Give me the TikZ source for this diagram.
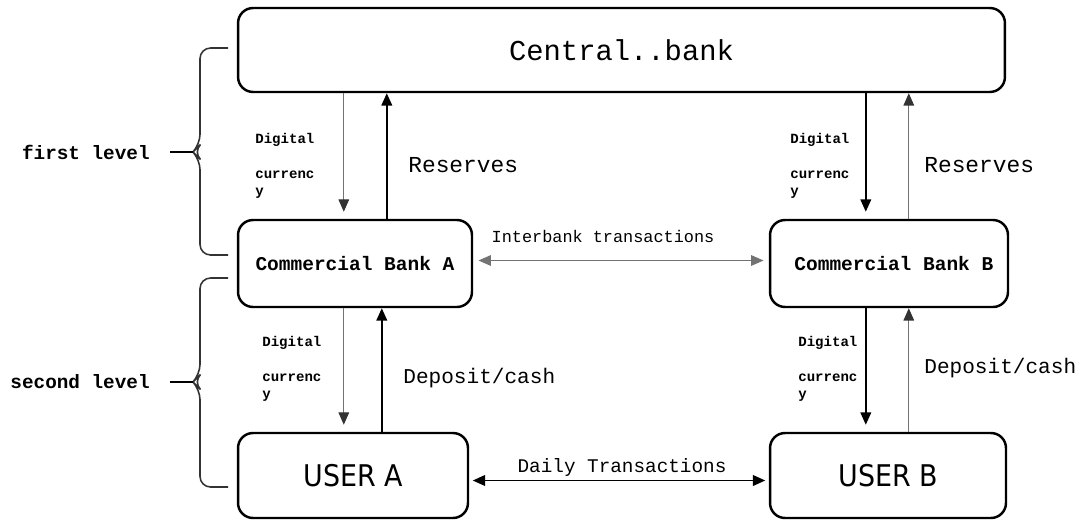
\documentclass[tikz,border=0pt]{standalone}
\usepackage{fontspec}
\setmonofont{Liberation Mono}
\newfontfamily\condfont{DejaVu Sans Condensed}
\usetikzlibrary{calc,arrows.meta}
\tikzstyle{box} = [rectangle, draw, line width=1.4pt, rounded corners=0.3cm,
    inner sep=0pt, font=\ttfamily\bfseries]
\tikzstyle{line} = [draw, line width=1.1pt, -{Triangle[length=7pt,width=6pt]}]
\tikzset{
  faint/.style={draw=black!55, line width=0.6pt,
    -{Triangle[length=7pt,width=6pt,color=black!80]}},
  both/.style={{Triangle[length=7pt,width=6pt]}-{Triangle[length=7pt,width=6pt]}},
  money/.style={font=\ttfamily\bfseries\fontsize{8}{9.6}\selectfont,
    align=left, anchor=west, inner sep=0pt},
  flow/.style={font=\ttfamily, anchor=west, inner sep=0pt},
  level/.style={font=\ttfamily\bfseries\fontsize{11}{13}\selectfont,
    anchor=east, inner sep=0pt},
  bracket/.style={draw=black!80, line width=0.9pt, rounded corners=6pt},
}

\begin{document}
\begin{tikzpicture}[x=0.02cm, y=-0.02cm]
    \useasboundingbox (0,0) rectangle (1081,524);
    % Place nodes
    \node [box, minimum width=15.34cm, minimum height=1.68cm,
        font=\ttfamily\fontsize{16.4}{18}\selectfont] (central) at (621.5,50) {Central..bank};
    \node [box, minimum width=4.68cm, minimum height=1.74cm,
        font=\ttfamily\bfseries\fontsize{11.1}{13}\selectfont] (bankA) at (355,263.5) {Commercial Bank A};
    \node [box, minimum width=4.76cm, minimum height=1.74cm,
        font=\ttfamily\bfseries\fontsize{11.1}{13}\selectfont] (bankB) at (889,263.5) {\hspace{0.5em}Commercial Bank B};
    \node [box, minimum width=4.6cm, minimum height=1.7cm,
        font=\condfont\fontsize{17}{19}\selectfont] (userA) at (353,475.5) {USER A};
    \node [box, minimum width=4.72cm, minimum height=1.7cm,
        font=\condfont\fontsize{17}{19}\selectfont] (userB) at (888,475.5) {USER B};
    % Helper coordinates for the vertical arrows
    \path (bankA.north west) ++(107,0) coordinate (dnA);
    \path (bankA.north west) ++(150,0) coordinate (upA);
    \path (bankB.north west) ++(97,0) coordinate (dnB);
    \path (bankB.north west) ++(140,0) coordinate (upB);
    \path (userA.north west) ++(107,0) coordinate (dnUA);
    \path (userA.north west) ++(145,0) coordinate (upUA);
    \path (userB.north west) ++(97,0) coordinate (dnUB);
    \path (userB.north west) ++(140,0) coordinate (upUB);
    % Draw edges
    \path [faint, shorten >=4pt] (central.south -| dnA) -- (bankA.north -| dnA);
    \path [line] (bankA.north -| upA) -- (central.south -| upA);
    \path [line, shorten >=4pt] (central.south -| dnB) -- (bankB.north -| dnB);
    \path [faint] (bankB.north -| upB) -- (central.south -| upB);
    \path [faint, shorten >=4pt] (bankA.south -| dnUA) -- (userA.north -| dnUA);
    \path [line] (userA.north -| upUA) -- (bankA.south -| upUA);
    \path [line, shorten >=4pt] (bankB.south -| dnUB) -- (userB.north -| dnUB);
    \path [faint] (userB.north -| upUB) -- (bankB.south -| upUB);
    \path [faint, both, shorten <=3pt, shorten >=3pt] ($(bankA.east)+(0,-3)$) -- ($(bankB.west)+(0,-3)$);
    \path [line, both, shorten <=2pt, shorten >=2pt] ($(userA.east)+(0,5)$) -- ($(userB.west)+(0,5)$);
    % Edge labels
    \node [money] (moneyA) at (255,166) {Digital\\[10pt]currenc\\y};
    \node [money] (moneyB) at (790,166) {Digital\\[10pt]currenc\\y};
    \node [money] (moneyUA) at (262,369) {Digital\\[10pt]currenc\\y};
    \node [money] (moneyUB) at (798,369) {Digital\\[10pt]currenc\\y};
    \node [flow, font=\ttfamily\fontsize{13}{15}\selectfont] (resA) at (408,165) {Reserves};
    \node [flow, font=\ttfamily\fontsize{13}{15}\selectfont] (resB) at (924,165) {Reserves};
    \node [flow, font=\ttfamily\fontsize{12}{14}\selectfont] (depA) at (403,378) {Deposit/cash};
    \node [flow, font=\ttfamily\fontsize{12}{14}\selectfont] (depB) at (924,368) {Deposit/cash};
    \node [font=\ttfamily\fontsize{9.6}{11}\selectfont, inner sep=0pt] (inter) at (603,236) {Interbank transactions};
    \node [font=\ttfamily\fontsize{11}{13}\selectfont, inner sep=0pt] (daily) at (622,467) {Daily Transactions};
    % Levels
    \draw [bracket] (228,48) -- (200,48) -- (200,145) -- (193,152) -- (200,159) -- (200,255) -- (228,255);
    \draw [bracket] (228,278) -- (200,278) -- (200,375) -- (193,382) -- (200,389) -- (200,487) -- (228,487);
    \coordinate (tipOne) at (193,152);
    \coordinate (tipTwo) at (193,382);
    \node [level] (first) at (150,152) {first level};
    \node [level] (second) at (150,382) {second level};
    \draw [line width=1pt] ($(first.east)+(20,0)$) -- (tipOne);
    \draw [line width=1pt] ($(second.east)+(20,0)$) -- (tipTwo);
\end{tikzpicture}
\end{document}
